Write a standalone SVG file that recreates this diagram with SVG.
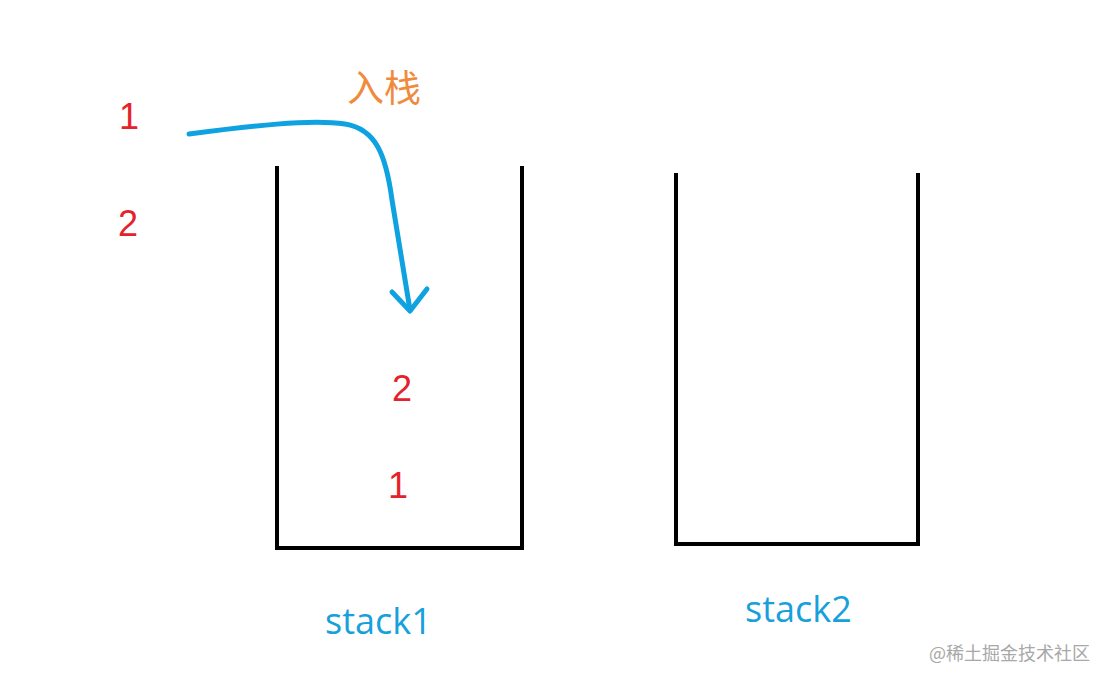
<svg xmlns="http://www.w3.org/2000/svg" width="1110" height="683" viewBox="0 0 1110 683">
<style>
.stk{fill:none;stroke:#000;stroke-width:4;stroke-linecap:butt}
.num{font-family:"Liberation Sans","Noto Sans CJK SC",sans-serif;font-size:36px;fill:#e5222c}
.lbl{font-family:"Open Sans","Liberation Sans",sans-serif;font-size:36px;fill:#16a0dc}
.cn{font-family:"Noto Sans CJK SC",sans-serif;font-size:37px;fill:#f08a3c}
.wm{font-family:"Noto Sans CJK SC",sans-serif;font-size:18px;fill:#a8a8a8}
.arr{fill:none;stroke:#0ea2e0;stroke-width:5;stroke-linecap:round;stroke-linejoin:round}
</style>
<rect width="1110" height="683" fill="#fff"/>
<g id="stack1">
<path class="stk" d="M277,166 L277,548 L522,548 L522,166"/>
<text class="lbl" x="325" y="634">stack1</text>
<text class="num" x="392" y="401">2</text>
<text class="num" x="388" y="498">1</text>
</g>
<g id="stack2">
<path class="stk" d="M676,173 L676,544 L918,544 L918,173"/>
<text class="lbl" x="745" y="622">stack2</text>
</g>
<g id="inputs">
<text class="num" x="119" y="129">1</text>
<text class="num" x="118" y="236">2</text>
</g>
<g id="connectors">
<path class="arr" d="M189,134 C250,126 310,119 345,124 C376,129 386,155 392,200 L410,310"/>
<path class="arr" d="M392,292 L410,311 L427,289"/>
<text class="cn" x="347" y="102">入栈</text>
</g>
<text class="wm" x="929" y="660">@稀土掘金技术社区</text>
</svg>
